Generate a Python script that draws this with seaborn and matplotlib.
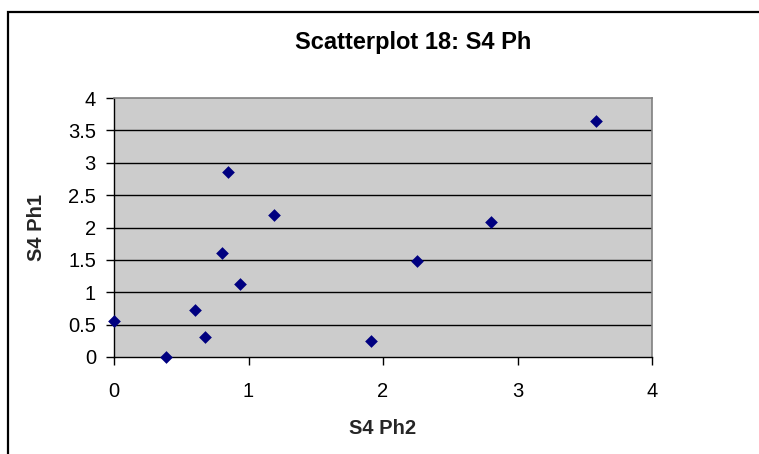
import matplotlib
matplotlib.use("Agg")
import matplotlib.pyplot as plt
from matplotlib.patches import Rectangle
import seaborn as sns
import pandas as pd

# S4 phase measurements
ph2 = [0.00, 0.39, 0.60, 0.68, 0.80, 0.85, 0.94, 1.19, 1.91, 2.25, 2.80, 3.58]
ph1 = [0.55, 0.00, 0.73, 0.31, 1.61, 2.85, 1.13, 2.19, 0.25, 1.48, 2.08, 3.65]
x_ticks = [0, 1, 2, 3, 4]
y_ticks = [0, 0.5, 1, 1.5, 2, 2.5, 3, 3.5, 4]
y_tick_labels = ["0", "0.5", "1", "1.5", "2", "2.5", "3", "3.5", "4"]

df = pd.DataFrame({"S4 Ph2": ph2, "S4 Ph1": ph1})

sns.set_theme(style="white")
plt.rcParams["font.family"] = ["Liberation Sans", "DejaVu Sans"]

W, H = 759, 454
fig = plt.figure(figsize=(W / 100, H / 100), dpi=100)
fig.patch.set_facecolor("white")

# outer chart frame
fig.patches.append(Rectangle((8 / W, -0.1), 1.2, (H - 12) / H + 0.1,
                             transform=fig.transFigure, fill=False,
                             edgecolor="black", linewidth=1.6))

ax = fig.add_axes([114 / W, (H - 357) / H, (652 - 114) / W, (357 - 98) / H])
ax.set_facecolor("#CCCCCC")

ax.set_xlim(0, 4)
ax.set_ylim(0, 4)
ax.set_yticks(y_ticks)
ax.set_yticklabels(y_tick_labels)
ax.set_xticks(x_ticks)
ax.set_xticklabels([str(t) for t in x_ticks])

for y in y_ticks[1:-1]:
    ax.axhline(y, color="black", linewidth=1.0, zorder=1)

sns.scatterplot(data=df, x="S4 Ph2", y="S4 Ph1", marker="D", s=42,
                color="#000080", edgecolor="#000080", linewidth=0,
                ax=ax, zorder=3, clip_on=False, legend=False)

for side in ["top", "right"]:
    ax.spines[side].set_color("#808080")
    ax.spines[side].set_linewidth(1.2)
for side in ["left", "bottom"]:
    ax.spines[side].set_color("black")
    ax.spines[side].set_linewidth(1.0)

ax.tick_params(axis="both", which="major", bottom=True, left=True,
               direction="out", length=6, width=1.0,
               color="black", labelsize=14.5, labelcolor="black")
ax.tick_params(axis="y", pad=7)
ax.tick_params(axis="x", pad=12)

ax.set_xlabel("S4 Ph2", fontsize=14.5, fontweight="bold", labelpad=13)
ax.set_ylabel("S4 Ph1", fontsize=14.5, fontweight="bold", labelpad=16)

fig.text(413 / W, 1 - 43 / H, "Scatterplot 18: S4 Ph", ha="center",
         va="center", fontsize=17, fontweight="bold", color="black")

fig.savefig("out.png", dpi=100)
